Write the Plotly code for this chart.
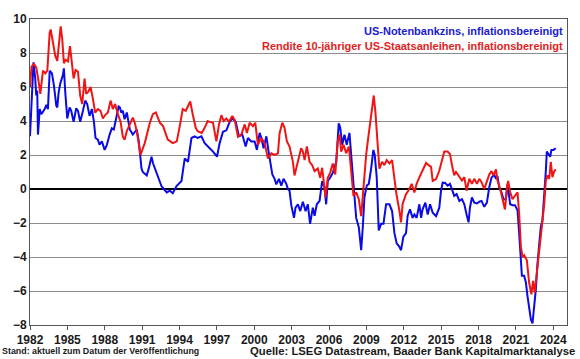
import plotly.graph_objects as go

# --- Data (decimal years, values in %) ---
blue_t = [1982.00,1982.12,1982.28,1982.42,1982.50,1982.58,1982.64,1982.78,1982.91,1983.18,1983.31,1983.44,1983.58,1983.76,1983.92,
1984.11,1984.19,1984.30,1984.43,1984.64,1984.72,1984.83,1984.99,1985.18,1985.31,1985.50,1985.71,1985.85,1986.03,1986.25,1986.43,
1986.59,1986.78,1986.97,1987.13,1987.26,1987.45,1987.58,1987.77,1987.99,1988.17,1988.39,1988.57,1988.73,1988.92,1989.11,1989.21,
1989.32,1989.45,1989.59,1989.77,1990.01,1990.25,1990.57,1990.73,1990.95,1991.05,1991.21,1991.37,1991.53,1991.75,1991.88,1992.02,
1992.26,1992.55,1992.74,1992.98,1993.22,1993.46,1993.76,1993.94,1994.16,1994.30,1994.42,1994.68,1994.96,1995.22,1995.46,1995.76,
1996.02,1996.42,1996.69,1997.01,1997.22,1997.49,1997.76,1998.03,1998.24,1998.51,1998.77,1999.04,1999.31,1999.49,1999.76,2000.03,
2000.21,2000.43,2000.57,2000.75,2000.97,2001.15,2001.29,2001.45,2001.63,2001.77,2001.98,2002.17,2002.35,2002.57,2002.70,2002.83,
2002.97,2003.19,2003.31,2003.50,2003.69,2003.90,2004.12,2004.30,2004.48,2004.70,2004.84,2005.02,2005.24,2005.45,2005.64,2005.77,
2005.90,2006.09,2006.30,2006.58,2006.78,2006.90,2007.06,2007.24,2007.42,2007.64,2007.78,2007.96,2008.18,2008.39,2008.58,2008.71,
2008.84,2009.03,2009.19,2009.38,2009.56,2009.67,2009.83,2009.99,2010.18,2010.37,2010.58,2010.85,2011.06,2011.25,2011.43,2011.65,
2011.78,2011.97,2012.18,2012.31,2012.50,2012.71,2012.85,2013.03,2013.25,2013.39,2013.51,2013.73,2013.92,2014.11,2014.32,2014.59,
2014.85,2014.99,2015.12,2015.33,2015.52,2015.71,2015.87,2016.05,2016.24,2016.46,2016.67,2016.86,2017.04,2017.20,2017.31,2017.47,
2017.66,2017.87,2018.06,2018.24,2018.46,2018.67,2018.86,2019.04,2019.26,2019.40,2019.52,2019.66,2019.84,2020.01,2020.20,2020.33,
2020.54,2020.73,2020.92,2021.13,2021.26,2021.40,2021.48,2021.66,2021.80,2021.93,2022.06,2022.20,2022.33,2022.46,2022.60,2022.73,
2022.87,2023.00,2023.13,2023.27,2023.40,2023.48,2023.59,2023.75,2023.85,2024.01,2024.20]
blue_v = [3.1,5.0,7.45,6.5,5.5,5.8,3.2,4.7,4.4,4.7,4.95,4.7,6.96,6.8,6.1,
4.9,4.8,5.7,6.2,6.7,7.1,5.7,4.15,4.8,4.6,3.95,4.75,4.6,3.95,4.6,5.2,
5.0,4.3,4.7,3.95,3.0,2.9,2.6,2.8,2.3,2.6,3.2,3.57,3.5,4.15,4.85,4.8,
4.5,4.6,4.1,4.5,3.5,3.2,3.5,2.8,1.2,1.0,0.9,0.8,1.2,1.9,1.5,1.2,
0.66,0.17,0.0,-0.2,-0.1,-0.25,0.17,0.3,0.47,1.2,1.8,1.6,3.0,3.1,3.0,3.1,
2.7,2.4,2.2,1.9,2.7,3.37,3.45,3.95,4.15,3.95,3.1,3.2,2.5,3.0,2.8,2.8,
2.3,3.3,3.0,2.4,3.1,2.2,1.6,0.85,0.6,0.27,0.6,0.2,0.6,0.3,0.0,-0.1,
-0.95,-1.7,-1.1,-0.9,-1.3,-0.75,-1.3,-0.9,-2.05,-1.1,-1.57,-0.9,-0.7,0.47,0.1,-0.9,
0.47,0.66,0.95,1.6,3.86,3.6,2.6,3.2,2.6,3.3,2.0,0.1,-1.7,-2.25,-3.6,-2.25,
-0.5,0.2,0.3,1.2,2.3,2.0,0.66,-2.44,-2.05,-2.05,-0.9,-0.9,-1.3,-2.6,-3.2,-3.4,
-3.6,-2.8,-2.6,-1.57,-1.2,-1.7,-1.5,-1.7,-0.9,-1.7,-1.2,-0.8,-1.5,-0.9,-1.4,-1.6,
-1.1,-0.1,0.37,0.35,0.2,0.3,-0.1,-0.4,-0.3,-0.7,-0.6,-0.9,-1.5,-1.96,-1.1,-0.5,
-0.8,-0.85,-0.75,-0.7,-1.05,-0.8,0.1,0.67,0.85,0.6,0.75,0.1,-0.2,-0.6,-0.6,0.3,
-0.9,-0.95,-0.95,-1.25,-2.6,-4.6,-5.1,-5.1,-5.5,-6.3,-6.9,-7.67,-7.9,-7.1,-5.9,-4.4,
-3.4,-2.2,-1.85,-0.5,1.05,2.2,2.1,1.9,2.3,2.3,2.4]

red_t = [1982.00,1982.12,1982.32,1982.50,1982.70,1982.83,1983.04,1983.23,1983.39,1983.58,1983.66,1983.84,1984.03,1984.19,1984.38,
1984.46,1984.59,1984.72,1984.86,1985.04,1985.21,1985.37,1985.50,1985.66,1985.85,1986.03,1986.19,1986.38,1986.51,1986.65,1986.86,
1987.05,1987.23,1987.45,1987.66,1987.85,1988.03,1988.25,1988.47,1988.65,1988.83,1989.05,1989.27,1989.45,1989.59,1989.77,1990.01,
1990.25,1990.41,1990.57,1990.87,1991.21,1991.62,1991.86,1992.10,1992.42,1992.68,1993.06,1993.46,1993.78,1994.02,1994.26,1994.50,
1994.86,1995.06,1995.30,1995.46,1995.78,1996.02,1996.26,1996.42,1996.69,1996.96,1997.17,1997.36,1997.54,1997.76,1997.97,1998.24,
1998.43,1998.69,1998.96,1999.23,1999.41,1999.63,1999.89,2000.08,2000.29,2000.57,2000.83,2001.09,2001.37,2001.63,2001.90,2002.03,
2002.25,2002.43,2002.62,2002.83,2003.10,2003.23,2003.42,2003.63,2003.76,2003.90,2004.04,2004.22,2004.44,2004.65,2004.84,2005.10,
2005.29,2005.45,2005.58,2005.72,2005.90,2006.09,2006.30,2006.50,2006.70,2006.84,2006.98,2007.16,2007.38,2007.59,2007.78,2007.96,
2008.18,2008.39,2008.58,2008.71,2008.84,2008.98,2009.11,2009.30,2009.46,2009.59,2009.72,2009.86,2010.04,2010.26,2010.44,2010.63,
2010.85,2011.06,2011.25,2011.41,2011.65,2011.78,2011.91,2012.18,2012.45,2012.63,2012.85,2013.03,2013.25,2013.51,2013.79,2013.99,
2014.19,2014.32,2014.59,2014.85,2015.07,2015.25,2015.52,2015.71,2015.87,2016.05,2016.19,2016.46,2016.67,2016.86,2017.04,2017.26,
2017.47,2017.66,2017.87,2018.06,2018.24,2018.46,2018.67,2018.86,2019.04,2019.20,2019.40,2019.52,2019.74,2019.92,2020.12,2020.28,
2020.38,2020.54,2020.73,2020.92,2021.13,2021.26,2021.40,2021.53,2021.66,2021.88,2022.06,2022.24,2022.38,2022.51,2022.68,2022.87,
2023.00,2023.13,2023.27,2023.40,2023.53,2023.67,2023.80,2023.93,2024.07,2024.20]
red_v = [6.0,7.2,7.35,7.15,6.28,5.6,6.96,6.8,6.96,9.19,9.38,8.5,7.83,7.54,9.2,
9.57,8.8,7.4,7.6,7.5,8.4,7.4,6.5,7.0,6.9,5.5,5.0,6.5,5.6,5.7,6.0,
5.3,4.5,4.7,4.6,4.15,4.35,4.5,5.2,4.7,5.0,4.4,3.95,3.08,2.9,3.4,3.8,
4.2,3.9,3.4,2.0,2.7,3.9,4.4,4.5,3.9,3.7,2.9,2.7,2.8,3.7,4.7,4.6,
5.15,4.4,3.6,3.4,3.3,3.6,4.0,3.95,3.9,2.8,3.8,4.34,4.0,4.15,3.95,4.3,
4.05,3.08,3.2,3.8,3.3,3.9,3.7,3.9,2.6,3.0,2.7,1.8,2.1,2.0,2.1,3.27,
3.9,3.6,2.8,2.5,1.6,0.8,1.4,2.1,2.4,2.2,1.7,2.5,1.6,1.4,1.05,1.2,
0.66,1.25,0.3,-0.5,0.66,0.95,1.5,0.85,2.8,3.2,2.2,2.6,2.1,2.5,1.05,-0.4,
-0.2,-0.6,-1.6,-0.4,1.05,2.0,2.8,3.95,4.9,5.5,4.55,3.3,1.2,1.6,1.4,1.7,
1.5,1.7,0.6,-0.3,-1.28,-1.96,-0.86,-0.3,0.0,0.3,-0.2,0.3,0.68,1.07,1.53,1.4,
1.3,0.48,0.58,1.07,1.7,2.2,2.2,2.05,1.4,0.8,1.0,0.68,0.5,0.7,-0.1,0.6,
0.3,0.6,0.3,0.6,0.4,0.0,0.4,0.85,1.05,0.8,1.15,0.5,0.0,-0.5,-1.2,0.1,
0.47,-0.2,-0.6,-0.4,-0.2,-1.47,-3.4,-4.0,-3.9,-4.2,-5.5,-6.2,-5.4,-6.1,-4.95,-3.4,
-2.83,-1.85,-0.9,0.47,0.8,0.6,1.6,0.7,1.05,1.15]

x_ticks = [1982, 1985, 1988, 1991, 1994, 1997, 2000, 2003, 2006, 2009, 2012, 2015, 2018, 2021, 2024]
y_ticks = [-8, -6, -4, -2, 0, 2, 4, 6, 8, 10]

blue_name = "US-Notenbankzins, inflationsbereinigt"
red_name = "Rendite 10-jähriger US-Staatsanleihen, inflationsbereinigt"
source_text = "Quelle: LSEG Datastream, Baader Bank Kapitalmarktanalyse"
stand_text = "Stand: aktuell zum Datum der Veröffentlichung"

BLUE = "#0a0ae6"
RED = "#f01414"
FONT = "Liberation Sans"

fig = go.Figure()
fig.add_trace(go.Scatter(x=blue_t, y=blue_v, mode="lines", name=blue_name,
                         line=dict(color=BLUE, width=2)))
fig.add_trace(go.Scatter(x=red_t, y=red_v, mode="lines", name=red_name,
                         line=dict(color=RED, width=2)))

fig.update_layout(
    width=580, height=359,
    margin=dict(l=30, r=12, t=16, b=33),
    paper_bgcolor="white", plot_bgcolor="white",
    showlegend=False,
    font=dict(family=FONT, color="#1a1a1a"),
)
fig.update_xaxes(
    range=[1982, 2025.1], tickvals=x_ticks, ticktext=[str(t) for t in x_ticks],
    showgrid=False, zeroline=False,
    showline=True, linecolor="#555555", linewidth=1, mirror=True,
    ticks="outside", ticklen=4, tickcolor="#555555",
    tickfont=dict(family=FONT, size=12, weight="bold", color="#1a1a1a"),
)
fig.update_yaxes(
    range=[-8, 10], tickvals=y_ticks,
    showgrid=True, gridcolor="#8c8c8c", gridwidth=1,
    zeroline=True, zerolinecolor="#000000", zerolinewidth=2,
    showline=True, linecolor="#555555", linewidth=1, mirror=True,
    ticks="",
    tickfont=dict(family=FONT, size=12, weight="bold", color="#1a1a1a"),
)

fig.add_annotation(x=0.996, y=0.961, xref="paper", yref="paper", xanchor="right", yanchor="middle",
                   text=blue_name, showarrow=False,
                   font=dict(family=FONT, size=11, weight="bold", color="#1a1ad2"))
fig.add_annotation(x=0.996, y=0.913, xref="paper", yref="paper", xanchor="right", yanchor="middle",
                   text=red_name, showarrow=False,
                   font=dict(family=FONT, size=11, weight="bold", color="#e01e1e"))
fig.add_annotation(x=1.018, y=-0.086, xref="paper", yref="paper", xanchor="right", yanchor="middle",
                   text=source_text, showarrow=False,
                   font=dict(family=FONT, size=11.3, weight="bold", color="#1a1a1a"))
fig.add_annotation(x=-0.056, y=-0.086, xref="paper", yref="paper", xanchor="left", yanchor="middle",
                   text=stand_text, showarrow=False,
                   font=dict(family=FONT, size=8.9, weight="bold", color="#1a1a1a"))

fig.write_html("out.html", config={"displayModeBar": False},
               post_script="document.body.style.margin='0';document.body.style.overflow='hidden';")
